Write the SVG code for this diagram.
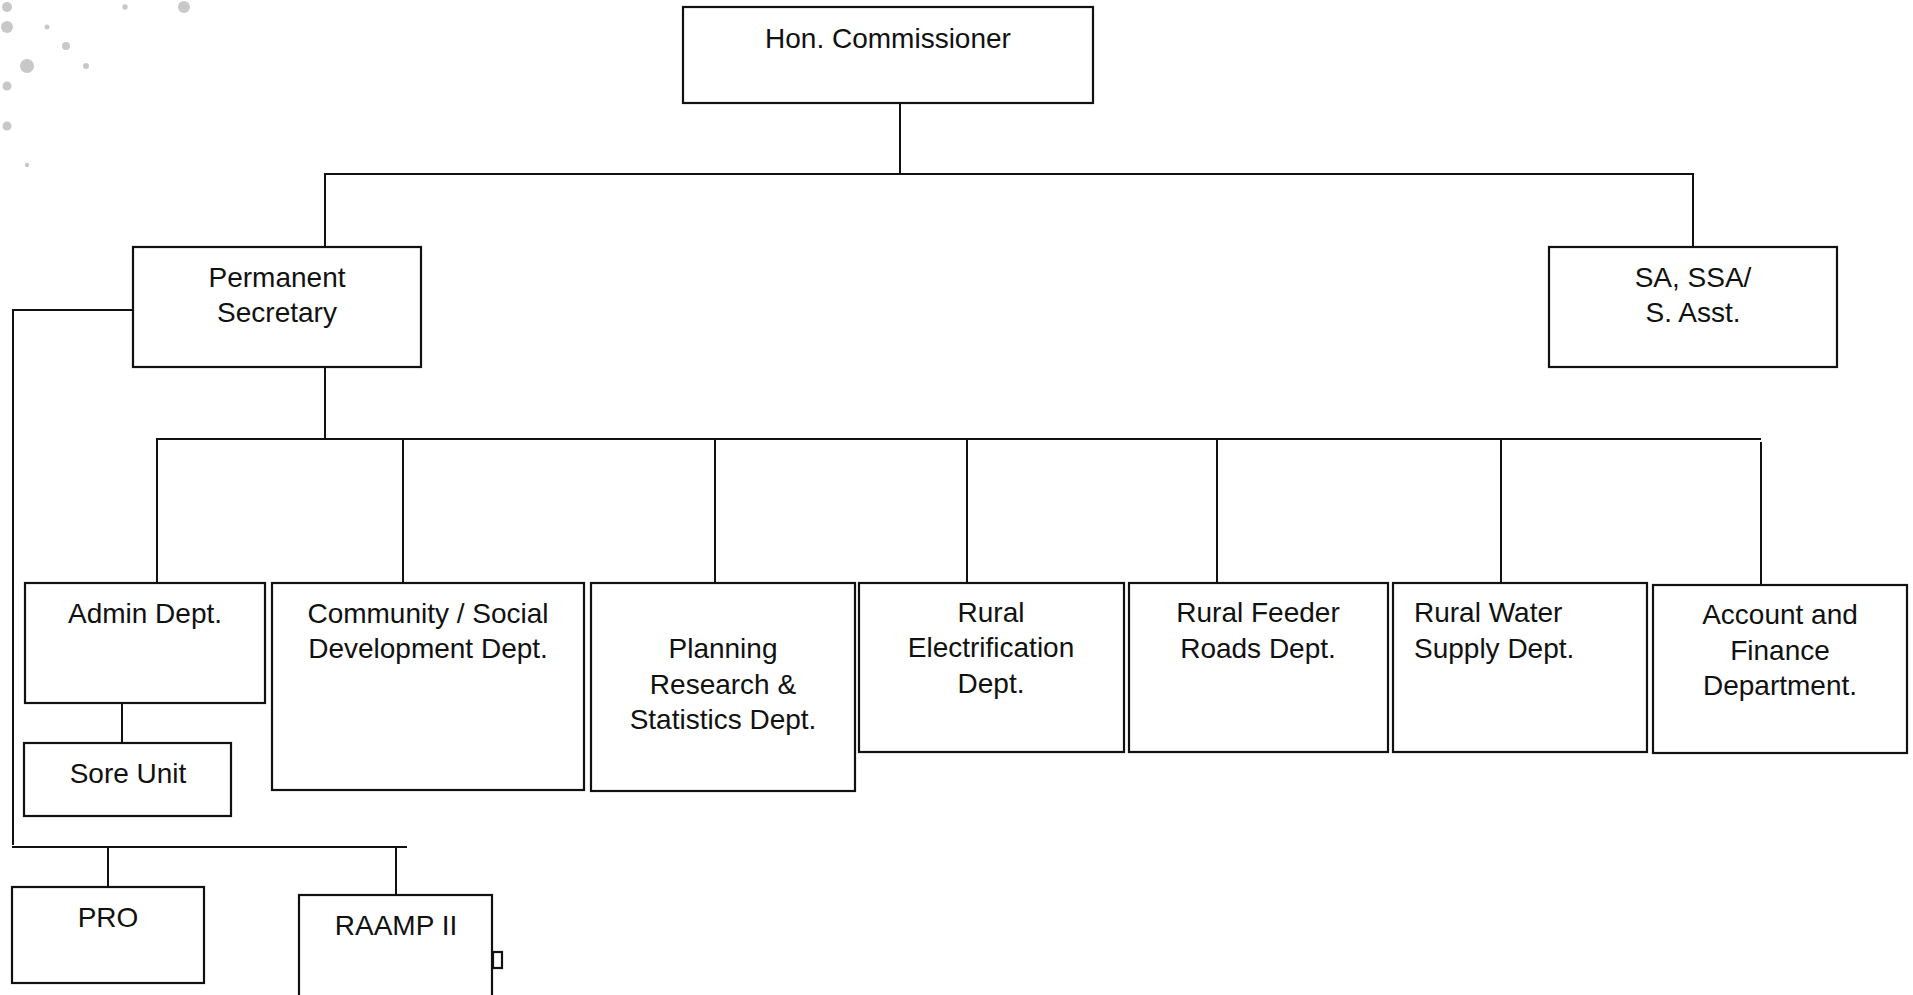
<svg xmlns="http://www.w3.org/2000/svg" width="1913" height="995" viewBox="0 0 1913 995">
<style>
.box{fill:#fff;stroke:#111;stroke-width:2.2}
.ln{stroke:#111;stroke-width:2;fill:none}
.t{font-family:"Liberation Sans",Arial,sans-serif;font-size:28px;fill:#111;text-anchor:middle}
.tl{font-family:"Liberation Sans",Arial,sans-serif;font-size:28px;fill:#111;text-anchor:start}
.dot{fill:#c8c8c8}
</style>
<rect width="1913" height="995" fill="#fff"/>
<g id="decor">
<circle class="dot" cx="7" cy="7" r="5"/>
<circle class="dot" cx="125" cy="7" r="2.7"/>
<circle class="dot" cx="184" cy="7" r="6"/>
<circle class="dot" cx="7" cy="27" r="6"/>
<circle class="dot" cx="47" cy="27" r="2.5"/>
<circle class="dot" cx="66" cy="46" r="4"/>
<circle class="dot" cx="27" cy="66" r="7"/>
<circle class="dot" cx="86" cy="66" r="3"/>
<circle class="dot" cx="7" cy="86" r="4.5"/>
<circle class="dot" cx="7" cy="126" r="4.5"/>
<circle class="dot" cx="27" cy="165" r="2.2"/>
</g>
<g id="connectors">
<line class="ln" x1="900" y1="103" x2="900" y2="175"/>
<line class="ln" x1="324" y1="174" x2="1694" y2="174"/>
<line class="ln" x1="325" y1="174" x2="325" y2="247"/>
<line class="ln" x1="1693" y1="174" x2="1693" y2="247"/>
<line class="ln" x1="325" y1="367" x2="325" y2="439"/>
<line class="ln" x1="156" y1="439" x2="1761" y2="439"/>
<line class="ln" x1="157" y1="439" x2="157" y2="583"/>
<line class="ln" x1="403" y1="439" x2="403" y2="583"/>
<line class="ln" x1="715" y1="439" x2="715" y2="583"/>
<line class="ln" x1="967" y1="439" x2="967" y2="583"/>
<line class="ln" x1="1217" y1="439" x2="1217" y2="583"/>
<line class="ln" x1="1501" y1="439" x2="1501" y2="583"/>
<line class="ln" x1="1761" y1="442" x2="1761" y2="585"/>
<line class="ln" x1="122" y1="703" x2="122" y2="743"/>
<line class="ln" x1="133" y1="310" x2="12" y2="310"/>
<line class="ln" x1="13" y1="309" x2="13" y2="845"/>
<line class="ln" x1="12" y1="847" x2="407" y2="847"/>
<line class="ln" x1="108" y1="847" x2="108" y2="887"/>
<line class="ln" x1="396" y1="847" x2="396" y2="895"/>
</g>
<g id="hon">
<rect class="box" x="683" y="7" width="410" height="96"/>
<text class="t" x="888" y="48">Hon. Commissioner</text>
</g>
<g id="permsec">
<rect class="box" x="133" y="247" width="288" height="120"/>
<text class="t" x="277" y="287">Permanent</text>
<text class="t" x="277" y="322">Secretary</text>
</g>
<g id="sa">
<rect class="box" x="1549" y="247" width="288" height="120"/>
<text class="t" x="1693" y="287">SA, SSA/</text>
<text class="t" x="1693" y="322">S. Asst.</text>
</g>
<g id="admin">
<rect class="box" x="25" y="583" width="240" height="120"/>
<text class="t" x="145" y="623">Admin Dept.</text>
</g>
<g id="sore">
<rect class="box" x="24" y="743" width="207" height="73"/>
<text class="t" x="128" y="783">Sore Unit</text>
</g>
<g id="community">
<rect class="box" x="272" y="583" width="312" height="207"/>
<text class="t" x="428" y="623">Community / Social</text>
<text class="t" x="428" y="658">Development Dept.</text>
</g>
<g id="planning">
<rect class="box" x="591" y="583" width="264" height="208"/>
<text class="t" x="723" y="658">Planning</text>
<text class="t" x="723" y="694">Research &amp;</text>
<text class="t" x="723" y="729">Statistics Dept.</text>
</g>
<g id="electrification">
<rect class="box" x="859" y="583" width="265" height="169"/>
<text class="t" x="991" y="622">Rural</text>
<text class="t" x="991" y="657">Electrification</text>
<text class="t" x="991" y="693">Dept.</text>
</g>
<g id="feeder">
<rect class="box" x="1129" y="583" width="259" height="169"/>
<text class="t" x="1258" y="622">Rural Feeder</text>
<text class="t" x="1258" y="658">Roads Dept.</text>
</g>
<g id="water">
<rect class="box" x="1393" y="583" width="254" height="169"/>
<text class="tl" x="1414" y="622">Rural Water</text>
<text class="tl" x="1414" y="658">Supply Dept.</text>
</g>
<g id="account">
<rect class="box" x="1653" y="585" width="254" height="168"/>
<text class="t" x="1780" y="624">Account and</text>
<text class="t" x="1780" y="660">Finance</text>
<text class="t" x="1780" y="695">Department.</text>
</g>
<g id="pro">
<rect class="box" x="12" y="887" width="192" height="96"/>
<text class="t" x="108" y="927">PRO</text>
</g>
<g id="raamp">
<rect class="box" x="299" y="895" width="193" height="110"/>
<text class="t" x="396" y="935">RAAMP II</text>
<rect class="box" x="493" y="952" width="9" height="16" stroke-width="1.6"/>
</g>
</svg>
